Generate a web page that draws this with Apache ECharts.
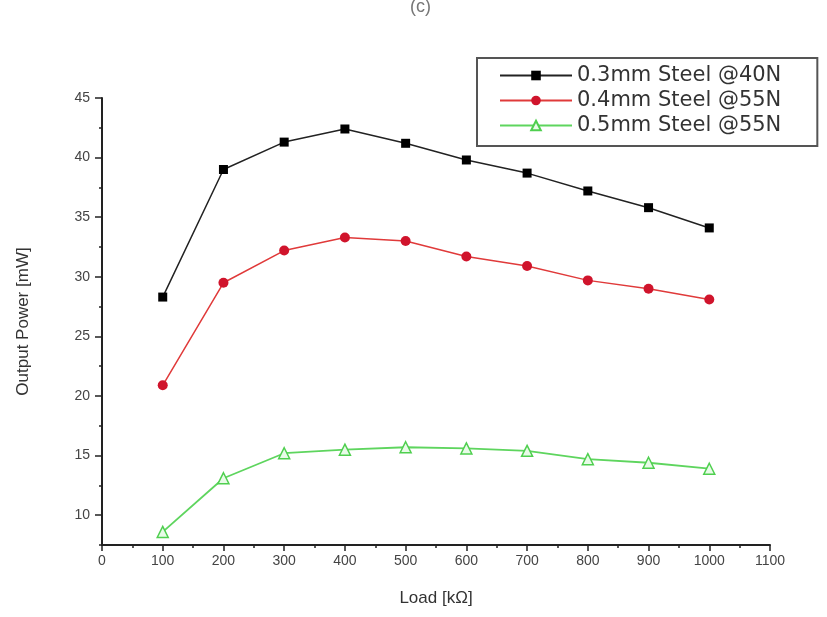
<!DOCTYPE html>
<html>
<head>
<meta charset="utf-8">
<script src="https://cdn.jsdelivr.net/npm/echarts@6/dist/echarts.min.js"></script>
<style>
  html, body { margin: 0; padding: 0; background: #fff; }
  #chart { width: 827px; height: 617px; }
</style>
</head>
<body>
<div id="chart"></div>
<script>
// load values in kOhm
const loads = [100, 200, 300, 400, 500, 600, 700, 800, 900, 1000]
const steel03 = [28.3, 39.0, 41.3, 42.4, 41.2, 39.8, 38.7, 37.2, 35.8, 34.1]
const steel04 = [20.9, 29.5, 32.2, 33.3, 33.0, 31.7, 30.9, 29.7, 29.0, 28.1]
const steel05 = [8.6, 13.1, 15.2, 15.5, 15.7, 15.6, 15.4, 14.7, 14.4, 13.9]
const seriesNames = ['0.3mm Steel @40N', '0.4mm Steel @55N', '0.5mm Steel @55N']
const yMajorTicks = [10, 15, 20, 25, 30, 35, 40, 45]

const font = 'Liberation Sans, Arial, sans-serif'
const chart = echarts.init(document.getElementById('chart'))

const pairs = vals => loads.map((x, i) => [x, vals[i]])

const yBase = {
  type: 'value',
  min: 7.5,
  max: 45,
  position: 'left',
  splitLine: { show: false }
}

const option = {
  animation: false,
  backgroundColor: '#fff',
  title: {
    text: '(c)',
    left: 405,
    top: -7,
    textStyle: { fontFamily: font, fontSize: 18, fontWeight: 'normal', color: '#777' }
  },
  grid: { left: 102, right: 57, top: 98, bottom: 72 },
  legend: {
    orient: 'vertical',
    left: 477,
    top: 58,
    padding: [7, 36, 10, 22],
    itemGap: 4,
    itemWidth: 72,
    itemHeight: 12,
    backgroundColor: '#fff',
    borderColor: '#555',
    borderWidth: 2,
    borderRadius: 0,
    textStyle: { fontFamily: 'DejaVu Sans, sans-serif', fontSize: 21, color: '#333' },
    data: seriesNames
  },
  xAxis: {
    type: 'value',
    min: 0,
    max: 1100,
    interval: 100,
    name: 'Load [kΩ]',
    nameLocation: 'middle',
    nameGap: 45,
    nameTextStyle: { fontFamily: font, fontSize: 17, color: '#333' },
    axisLine: { onZero: false, lineStyle: { color: '#222', width: 2 } },
    axisTick: { length: 6, lineStyle: { color: '#222', width: 1.5 } },
    minorTick: { show: true, splitNumber: 2, length: 3, lineStyle: { color: '#222', width: 1.5 } },
    axisLabel: { fontFamily: font, fontSize: 14, color: '#444', margin: 9, formatter: v => String(v) },
    splitLine: { show: false }
  },
  yAxis: [
    Object.assign({}, yBase, {
      interval: 2.5,
      name: 'Output Power [mW]',
      nameLocation: 'middle',
      nameGap: 70,
      nameTextStyle: { fontFamily: font, fontSize: 17, color: '#333' },
      axisLine: { show: true, onZero: false, lineStyle: { color: '#222', width: 2 } },
      axisTick: { show: true, length: 3, lineStyle: { color: '#222', width: 1.5 } },
      axisLabel: {
        fontFamily: font, fontSize: 14, color: '#444', margin: 12,
        formatter: v => (v % 5 === 0 ? String(v) : '')
      }
    }),
    Object.assign({}, yBase, {
      axisLine: { show: false },
      axisLabel: { show: false },
      axisTick: { show: true, length: 7, customValues: yMajorTicks, lineStyle: { color: '#222', width: 1.5 } }
    })
  ],
  series: [
    {
      name: seriesNames[0],
      type: 'line',
      data: pairs(steel03),
      symbol: 'rect',
      symbolSize: 9,
      itemStyle: { color: '#000' },
      lineStyle: { color: '#222', width: 1.5 }
    },
    {
      name: seriesNames[1],
      type: 'line',
      data: pairs(steel04),
      symbol: 'circle',
      symbolSize: 10,
      itemStyle: { color: '#d0142c' },
      lineStyle: { color: '#e03a3a', width: 1.5 }
    },
    {
      name: seriesNames[2],
      type: 'line',
      data: pairs(steel05),
      symbol: 'triangle',
      symbolSize: 11,
      itemStyle: { color: '#e8fbe8', borderColor: '#4fcf4f', borderWidth: 1.5 },
      lineStyle: { color: '#5ed55e', width: 1.8 }
    }
  ]
}

chart.setOption(option)
</script>
</body>
</html>
